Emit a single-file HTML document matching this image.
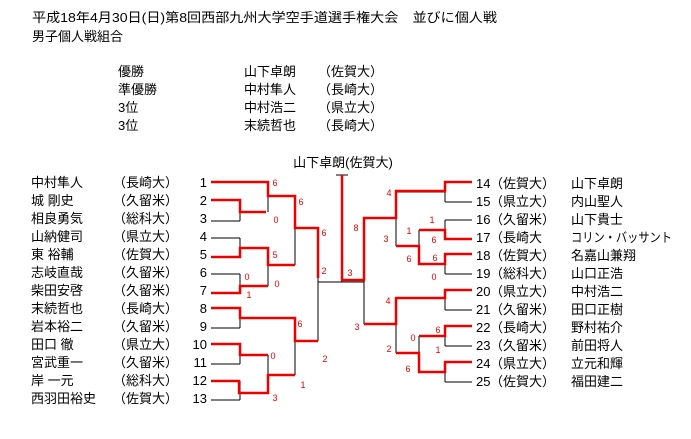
<!DOCTYPE html>
<html><head><meta charset="utf-8"><style>
html,body{margin:0;padding:0;background:#fff;}
svg{display:block;}
text{font-family:"Liberation Sans","Noto Sans CJK JP",sans-serif;font-size:13px;fill:#000;}
.s{font-size:9px;fill:#e00;text-anchor:middle;}
</style></head><body>
<svg width="691" height="439" viewBox="0 0 691 439" xmlns="http://www.w3.org/2000/svg">
<text x="32" y="22" textLength="465" lengthAdjust="spacingAndGlyphs">平成18年4月30日(日)第8回西部九州大学空手道選手権大会　並びに個人戦</text>
<text x="32" y="41">男子個人戦組合</text>
<g>
<text x="118" y="76">優勝</text><text x="244" y="76">山下卓朗</text><text x="318" y="76">（佐賀大）</text>
<text x="118" y="94">準優勝</text><text x="244" y="94">中村隼人</text><text x="318" y="94">（長崎大）</text>
<text x="118" y="112">3位</text><text x="244" y="112">中村浩二</text><text x="318" y="112">（県立大）</text>
<text x="118" y="130">3位</text><text x="244" y="130">末続哲也</text><text x="318" y="130">（長崎大）</text>
</g>
<text x="343" y="167" text-anchor="middle">山下卓朗(佐賀大)</text>

<g>
<text x="31" y="187">中村隼人</text><text x="113" y="187">（長崎大）</text><text x="207" y="187" text-anchor="end">1</text>
<text x="31" y="205">城 剛史</text><text x="113" y="205">（久留米）</text><text x="207" y="205" text-anchor="end">2</text>
<text x="31" y="223">相良勇気</text><text x="113" y="223">（総科大）</text><text x="207" y="223" text-anchor="end">3</text>
<text x="31" y="241">山納健司</text><text x="113" y="241">（県立大）</text><text x="207" y="241" text-anchor="end">4</text>
<text x="31" y="259">東 裕輔</text><text x="113" y="259">（佐賀大）</text><text x="207" y="259" text-anchor="end">5</text>
<text x="31" y="277">志岐直哉</text><text x="113" y="277">（久留米）</text><text x="207" y="277" text-anchor="end">6</text>
<text x="31" y="295">柴田安啓</text><text x="113" y="295">（久留米）</text><text x="207" y="295" text-anchor="end">7</text>
<text x="31" y="313">末続哲也</text><text x="113" y="313">（長崎大）</text><text x="207" y="313" text-anchor="end">8</text>
<text x="31" y="331">岩本裕二</text><text x="113" y="331">（久留米）</text><text x="207" y="331" text-anchor="end">9</text>
<text x="31" y="349">田口 徹</text><text x="113" y="349">（県立大）</text><text x="207" y="349" text-anchor="end">10</text>
<text x="31" y="367">宮武重一</text><text x="113" y="367">（久留米）</text><text x="207" y="367" text-anchor="end">11</text>
<text x="31" y="385">岸 一元</text><text x="113" y="385">（総科大）</text><text x="207" y="385" text-anchor="end">12</text>
<text x="31" y="403">西羽田裕史</text><text x="113" y="403">（佐賀大）</text><text x="207" y="403" text-anchor="end">13</text>
</g>
<g>
<text x="476" y="188">14</text><text x="490" y="188">（佐賀大）</text><text x="571" y="188">山下卓朗</text>
<text x="476" y="206">15</text><text x="490" y="206">（県立大）</text><text x="571" y="206">内山聖人</text>
<text x="476" y="224">16</text><text x="490" y="224">（久留米）</text><text x="571" y="224">山下貴士</text>
<text x="476" y="242">17</text><text x="490" y="242">（長崎大</text><text x="571" y="242" textLength="101" lengthAdjust="spacingAndGlyphs">コリン・バッサント</text>
<text x="476" y="260">18</text><text x="490" y="260">（佐賀大）</text><text x="571" y="260">名嘉山兼翔</text>
<text x="476" y="278">19</text><text x="490" y="278">（総科大）</text><text x="571" y="278">山口正浩</text>
<text x="476" y="296">20</text><text x="490" y="296">（県立大）</text><text x="571" y="296">中村浩二</text>
<text x="476" y="314">21</text><text x="490" y="314">（久留米）</text><text x="571" y="314">田口正樹</text>
<text x="476" y="332">22</text><text x="490" y="332">（長崎大）</text><text x="571" y="332">野村祐介</text>
<text x="476" y="350">23</text><text x="490" y="350">（久留米）</text><text x="571" y="350">前田将人</text>
<text x="476" y="368">24</text><text x="490" y="368">（県立大）</text><text x="571" y="368">立元和輝</text>
<text x="476" y="386">25</text><text x="490" y="386">（佐賀大）</text><text x="571" y="386">福田建二</text>
</g>

<g stroke="#000" stroke-width="1" fill="none">
<path d="M211 221H240M211 238H240M211 274H240M211 328H240M211 364H240M211 400H240"/>
<path d="M240 200V221M240 238V257M240 274V293M240 308V328M240 344V364M240 381V400"/>
<path d="M268 182V212M268 248V286M268 355V393M295 196V265M295 318V375M318 228V341"/>
<path d="M318 282H364M342 175V282M336 175H348"/>
<path d="M364 218V324M396 191V246M396 298V353M419 230V264M419 336V372"/>
<path d="M445 182V202M445 220V239M445 254V274M445 290V310M445 326V346M445 362V382"/>
<path d="M445 202H472M445 220H472M445 274H472M445 310H472M445 346H472M445 382H472"/>
<path d="M396 192H445M396 246H419M396 298H445M396 353H419"/>
</g>
<g stroke="#e00" stroke-width="2.5" fill="none">
<path d="M211 182H268V196H295V228H318V278"/>
<path d="M211 200H240V212H266"/>
<path d="M211 257H240V248H268V265H295"/>
<path d="M211 293H240V286H268"/>
<path d="M211 308H240V318H295V341H318"/>
<path d="M211 344H240V355H268"/>
<path d="M211 381H239V393H268V375H295"/>
<path d="M342 175V280H364V218H396V191H445V182H472"/>
<path d="M364 324H396V298H445V290H472"/>
<path d="M396 246H419V264H445V254H472"/>
<path d="M472 239H445V230H419"/>
<path d="M396 353H419V372H445V362H472"/>
<path d="M419 336H445V326H472"/>
</g>
<g>
<text class="s" x="275" y="186">6</text><text class="s" x="276" y="223">0</text>
<text class="s" x="301" y="205">6</text><text class="s" x="275" y="258">5</text>
<text class="s" x="247" y="280">0</text><text class="s" x="249" y="298">1</text>
<text class="s" x="277" y="287">0</text><text class="s" x="324" y="236">6</text>
<text class="s" x="324" y="274">2</text><text class="s" x="300" y="327">6</text>
<text class="s" x="273" y="359">0</text><text class="s" x="303" y="388">1</text>
<text class="s" x="275" y="401">3</text><text class="s" x="325" y="362">2</text>
<text class="s" x="356" y="231">8</text><text class="s" x="350" y="276">3</text>
<text class="s" x="357" y="330">3</text>
<text class="s" x="389" y="196">4</text><text class="s" x="386" y="242">3</text>
<text class="s" x="409" y="234">1</text><text class="s" x="432" y="223">1</text>
<text class="s" x="434" y="243">6</text><text class="s" x="409" y="262">6</text>
<text class="s" x="435" y="261">6</text><text class="s" x="434" y="280">0</text>
<text class="s" x="388" y="304">4</text><text class="s" x="413" y="341">0</text>
<text class="s" x="438" y="333">6</text><text class="s" x="438" y="353">1</text>
<text class="s" x="389" y="352">2</text><text class="s" x="408" y="372">6</text>
</g>
</svg>
</body></html>
